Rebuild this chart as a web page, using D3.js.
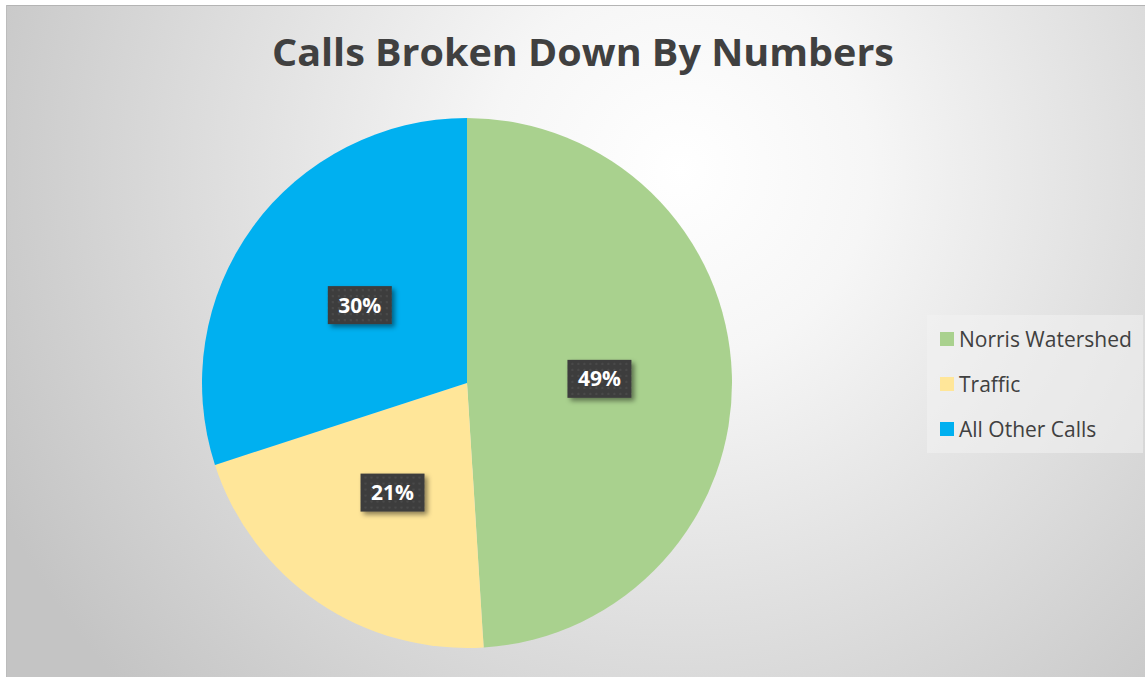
<!DOCTYPE html>
<html>
<head>
<meta charset="utf-8">
<script src="https://cdn.jsdelivr.net/npm/d3@7"></script>
<style>
  html, body { margin: 0; padding: 0; background: #fff; }
  svg { display: block; }
</style>
</head>
<body>
<svg id="chart"></svg>
<script>
  const categories = ["Norris Watershed", "Traffic", "All Other Calls"];
  const shares = [49, 21, 30];
  const colors = ["#a9d18e", "#ffe699", "#00b0f0"];
  const title = "Calls Broken Down By Numbers";

  const width = 1145,
      height = 677;

  const TEXT = "#404040";
  const FONT = "'Open Sans', 'Noto Sans', sans-serif";

  const svg = d3.select("#chart")
    .attr("width", width)
    .attr("height", height);

  const defs = svg.append("defs");

  // soft grey background, brightest near the upper middle
  const bg = defs.append("radialGradient")
    .attr("id", "bg")
    .attr("gradientUnits", "userSpaceOnUse")
    .attr("cx", 680).attr("cy", 170).attr("r", 760);
  bg.append("stop").attr("offset", "0").attr("stop-color", "#ffffff");
  bg.append("stop").attr("offset", "0.25").attr("stop-color", "#f6f6f6");
  bg.append("stop").attr("offset", "1").attr("stop-color", "#c4c4c4");

  // dotted texture on the label boxes
  const pat = defs.append("pattern")
    .attr("id", "dots")
    .attr("patternUnits", "userSpaceOnUse")
    .attr("width", 6).attr("height", 6);
  pat.append("rect").attr("width", 6).attr("height", 6).attr("fill", "#3c3c3c");
  pat.append("circle").attr("cx", 3).attr("cy", 3).attr("r", 1.3).attr("fill", "#4a4a4a");

  const shadow = defs.append("filter")
    .attr("id", "shadow")
    .attr("x", "-30%").attr("y", "-30%")
    .attr("width", "160%").attr("height", "160%");
  shadow.append("feDropShadow")
    .attr("dx", 3).attr("dy", 3)
    .attr("stdDeviation", 2.5)
    .attr("flood-color", "#000")
    .attr("flood-opacity", 0.45);

  // chart area
  svg.append("rect")
    .attr("x", 6).attr("y", 5)
    .attr("width", width - 6).attr("height", height - 5)
    .attr("fill", "url(#bg)");
  svg.append("line")
    .attr("x1", 6).attr("x2", width)
    .attr("y1", 5.5).attr("y2", 5.5)
    .attr("stroke", "#b4b4b4");
  svg.append("line")
    .attr("x1", 6.5).attr("x2", 6.5)
    .attr("y1", 5).attr("y2", height)
    .attr("stroke", "#bcbcbc");

  // title
  svg.append("text")
    .attr("x", 583).attr("y", 66)
    .attr("text-anchor", "middle")
    .attr("font-family", FONT)
    .attr("font-weight", 700)
    .attr("font-size", 37)
    .attr("fill", TEXT)
    .attr("textLength", 622)
    .attr("lengthAdjust", "spacingAndGlyphs")
    .text(title);

  // pie
  const cx = 467, cy = 383, radius = 265;

  const pie = d3.pie().sort(null).value(d => d.value);
  const arcs = pie(categories.map((c, i) => ({ name: c, value: shares[i], color: colors[i] })));

  const arc = d3.arc().innerRadius(0).outerRadius(radius);
  const labelArc = d3.arc().innerRadius(radius / 2).outerRadius(radius / 2);

  const pieGroup = svg.append("g")
    .attr("transform", "translate(" + cx + "," + cy + ")");

  pieGroup.selectAll(".slice")
    .data(arcs)
    .enter()
    .append("path")
    .attr("class", "slice")
    .attr("d", arc)
    .attr("fill", d => d.data.color);

  const total = d3.sum(shares);
  const labels = pieGroup.selectAll(".label")
    .data(arcs)
    .enter()
    .append("g")
    .attr("class", "label")
    .attr("transform", d => "translate(" + labelArc.centroid(d) + ")");

  labels.append("rect")
    .attr("x", -32).attr("y", -19)
    .attr("width", 64).attr("height", 38)
    .attr("fill", "url(#dots)")
    .attr("filter", "url(#shadow)");

  labels.append("text")
    .attr("text-anchor", "middle")
    .attr("dy", "0.36em")
    .attr("font-family", FONT)
    .attr("font-weight", 700)
    .attr("font-size", 21)
    .attr("fill", "#ffffff")
    .text(d => Math.round(d.data.value / total * 100) + "%");

  // legend
  const legend = svg.append("g")
    .attr("transform", "translate(927,315)");

  legend.append("rect")
    .attr("width", 216).attr("height", 138)
    .attr("fill", "#f2f2f2")
    .attr("fill-opacity", 0.55);

  const items = legend.selectAll(".item")
    .data(categories)
    .enter()
    .append("g")
    .attr("class", "item")
    .attr("transform", (d, i) => "translate(13," + (24 + i * 45) + ")");

  items.append("rect")
    .attr("y", -7)
    .attr("width", 14).attr("height", 14)
    .attr("fill", (d, i) => colors[i]);

  items.append("text")
    .attr("x", 19)
    .attr("dy", "0.36em")
    .attr("font-family", FONT)
    .attr("font-size", 21)
    .attr("fill", TEXT)
    .text(d => d);
</script>
</body>
</html>
